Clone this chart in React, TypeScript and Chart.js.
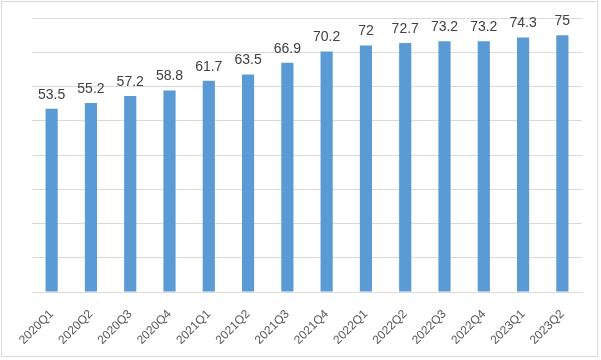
import React, { useEffect, useRef } from "react";
import { Chart, registerables } from "chart.js";

Chart.register(...registerables);

const categories = ["2020Q1","2020Q2","2020Q3","2020Q4","2021Q1","2021Q2","2021Q3","2021Q4","2022Q1","2022Q2","2022Q3","2022Q4","2023Q1","2023Q2"];
const values = [53.5, 55.2, 57.2, 58.8, 61.7, 63.5, 66.9, 70.2, 72, 72.7, 73.2, 73.2, 74.3, 75];
const yMin = 0;
const yMax = 80;
const yStep = 10;

const labelPlugin = {
  id: "valueLabels",
  afterDatasetsDraw(chart: any) {
    const ctx = chart.ctx;
    const meta = chart.getDatasetMeta(0);
    ctx.save();
    ctx.font = '14px "Liberation Sans", Arial, sans-serif';
    ctx.fillStyle = "#404040";
    ctx.textAlign = "center";
    ctx.textBaseline = "bottom";
    meta.data.forEach((bar: any, i: number) => {
      ctx.fillText(String(values[i]), bar.x, bar.y - 7);
    });
    ctx.restore();
  },
};

export default function App() {
  const ref = useRef<HTMLCanvasElement>(null);
  useEffect(() => {
    document.body.style.margin = "0";
    const chart = new Chart(ref.current!, {
      type: "bar",
      data: {
        labels: categories,
        datasets: [
          {
            data: values,
            backgroundColor: "#5B9BD5",
            borderWidth: 0,
            barPercentage: 0.31,
            categoryPercentage: 1,
          },
        ],
      },
      options: {
        animation: false,
        responsive: false,
        maintainAspectRatio: false,
        layout: { padding: { left: 32, right: 19, top: 18, bottom: 0 } },
        plugins: { legend: { display: false }, tooltip: { enabled: false } },
        scales: {
          x: {
            grid: { display: false },
            border: { display: true, color: "#d9d9d9", width: 1 },
            ticks: {
              minRotation: 45,
              maxRotation: 45,
              color: "#595959",
              font: { family: '"Liberation Sans", Arial, sans-serif', size: 12 },
              padding: 7,
            },
            afterFit: (s: any) => {
              s.height = 68;
            },
          },
          y: {
            min: yMin,
            max: yMax,
            ticks: { stepSize: yStep, display: false },
            grid: { color: "#d9d9d9", drawTicks: false },
            border: { display: false },
            afterFit: (s: any) => {
              s.width = 0;
            },
          },
        },
      },
      plugins: [labelPlugin],
    });
    return () => chart.destroy();
  }, []);
  return (
    <div style={{ position: "relative", width: 601, height: 360 }}>
      <canvas ref={ref} width={601} height={360} style={{ display: "block" }} />
      <div
        style={{
          position: "absolute",
          left: 1,
          top: 1,
          width: 597,
          height: 356,
          border: "1px solid #d9d9d9",
          boxSizing: "border-box",
          pointerEvents: "none",
        }}
      />
    </div>
  );
}
